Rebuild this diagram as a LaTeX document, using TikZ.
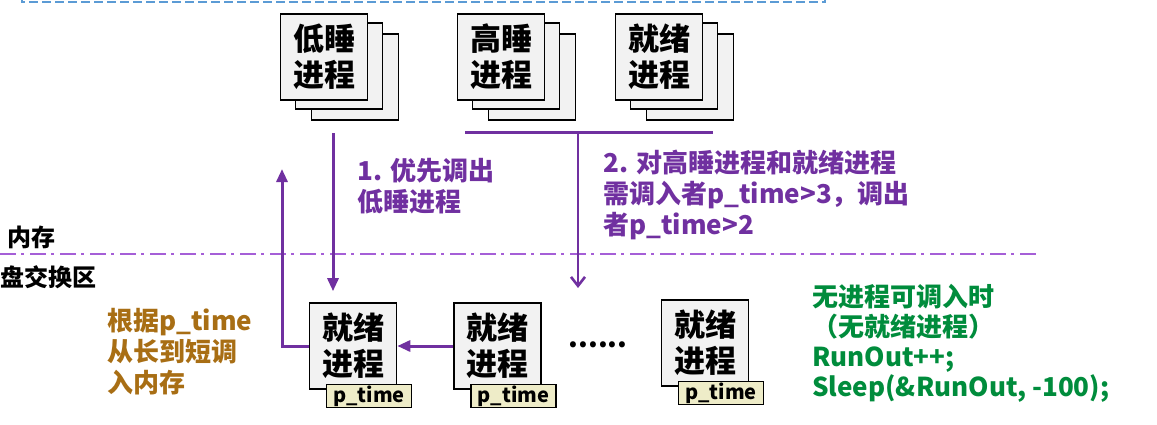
\documentclass[tikz,border=0pt]{standalone}
\usepackage{fontspec}
\setmainfont{Noto Sans CJK SC}
\usepackage{xcolor}
\usepackage{tikz}
\usetikzlibrary{positioning,arrows.meta}
\definecolor{lpurple}{RGB}{112,48,160}
\definecolor{dpurple}{RGB}{165,95,215}
\definecolor{lgreen}{RGB}{0,140,60}
\definecolor{lbrown}{RGB}{168,110,20}
\definecolor{cardgray}{RGB}{242,242,242}
\definecolor{tagbeige}{RGB}{238,236,200}
\definecolor{lblue}{RGB}{91,155,213}

\begin{document}
\begin{tikzpicture}[x=1pt,y=-1pt,font=\bfseries,
card/.style={draw,line width=1.6pt,fill=cardgray,minimum width=87pt,minimum height=86pt,inner sep=0pt,align=center,font=\bfseries\fontsize{31}{36}\selectfont},
tag/.style={draw,line width=1.6pt,fill=tagbeige,minimum width=85pt,minimum height=23pt,inner sep=0pt,font=\bfseries\fontsize{20}{20}\selectfont},
lab/.style={align=left,inner sep=0pt,anchor=west,font=\bfseries\fontsize{26}{31}\selectfont},
side/.style={inner sep=0pt,anchor=west,font=\bfseries\fontsize{24}{24}\selectfont},
arr/.style={draw=lpurple,line width=3pt,-{Triangle[length=13pt,width=11pt]}}]
\useasboundingbox (0,0) rectangle (1157,424);
\draw[lblue,line width=1.4pt,dash pattern=on 9pt off 4pt] (22,-4) -- (22,2) -- (825,2) -- (825,-4);
\foreach \nm/\cx/\cy/\txt in {ls/324/57/{低睡\\进程},hs/501/57/{高睡\\进程},rd/659/57/{就绪\\进程}}{
  \node[card] (\nm3) at (\cx+31,\cy+20) {};
  \node[card] (\nm2) at (\cx+15,\cy+9) {};
  \node[card] (\nm1) at (\cx,\cy) {\txt};
}
\node[card] (b1) at (353,346) {就绪\\进程};
\node[card,right=56pt of b1] (b2) {就绪\\进程};
\node[card] (b3) at (705,343) {就绪\\进程};
\foreach \b in {b1,b2,b3} \node[tag,anchor=north west] (t\b) at ([xshift=17pt,yshift=6pt]\b.south west) {p\_time};
\node[anchor=base,font=\bfseries\fontsize{28}{28}\selectfont] (dots) at (598,347) {......};
\coordinate (mL) at (0,254); \coordinate (mR) at (1040,254);
\draw[dpurple,line width=2.4pt,dash pattern=on 16pt off 5pt on 3pt off 6pt] (mL) -- (mR);
\node[side] (mem) at (7,237) {内存};
\node[side] (swap) at (0,277) {盘交换区};
\coordinate (d1) at (333,133); \coordinate (u1) at (282,169);
\draw[arr] (d1) -- ([yshift=11pt]b1.north -| d1);
\draw[arr] (b1.west) -| (u1);
\draw[arr] (b2.west) -- (b1.east);
\coordinate (brL) at (465,132); \coordinate (brR) at (713,132); \coordinate (brM) at (578,132); \coordinate (brE) at (578,288);
\draw[lpurple,line width=3pt] (brL) -- (brR);
\draw[lpurple,line width=2.6pt,-{Straight Barb[length=9pt,width=14pt]}] (brM) -- (brE);
\node[lab,text=lpurple] (n1) at (357,186) {1. 优先调出\\低睡进程};
\node[lab,text=lpurple] (n2) at (603,195) {2. 对高睡进程和就绪进程\\需调入者p\_time>3，调出\\者p\_time>2};
\node[lab,text=lgreen,font=\bfseries\fontsize{26}{30}\selectfont] (n3) at (812,343) {无进程可调入时\\（无就绪进程）\\RunOut++;\\Sleep(\&RunOut, -100);};
\node[lab,text=lbrown] (n4) at (107,352) {根据p\_time\\从长到短调\\入内存};
\end{tikzpicture}
\end{document}
